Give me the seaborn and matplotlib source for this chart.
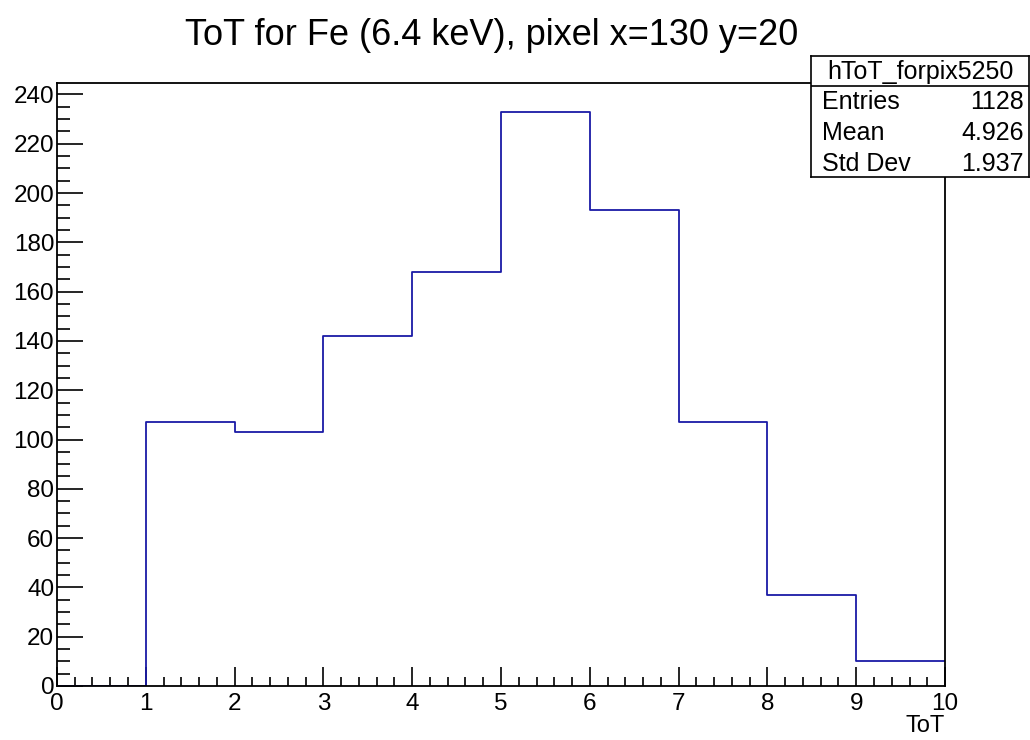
import numpy as np
import pandas as pd
import matplotlib
matplotlib.use("Agg")
import matplotlib.pyplot as plt
from matplotlib.ticker import MultipleLocator
import seaborn as sns

# histogram contents (bin lower edges and counts)
bin_lo = [0, 1, 2, 3, 4, 5, 6, 7, 8, 9]
counts = [0, 107, 103, 142, 168, 233, 193, 107, 37, 10]
hist_name = "hToT_forpix5250"
stat_labels = ["Entries", "Mean", "Std Dev"]
stat_values = ["1128", "4.926", "1.937"]
title = "ToT for Fe (6.4 keV), pixel x=130 y=20"

sns.set_style("white")
plt.rcParams['font.family'] = ['Liberation Sans', 'DejaVu Sans']
plt.rcParams['text.color'] = 'black'
plt.rcParams['xtick.color'] = 'black'
plt.rcParams['ytick.color'] = 'black'
plt.rcParams['axes.labelcolor'] = 'black'

df = pd.DataFrame({"ToT": np.array(bin_lo) + 0.5, "n": counts})

fig = plt.figure(figsize=(10.3, 7.4), dpi=100)
ax = fig.add_axes([0.0553, 0.073, 0.8622, 0.8148])
sns.histplot(data=df, x="ToT", weights="n", binwidth=1, binrange=(0, 10), element="step",
             fill=False, color="#1a1aa6", linewidth=1.3, ax=ax)

ax.set_xlim(0, 10)
ax.set_ylim(0, max(counts) * 1.05)
ax.xaxis.set_major_locator(MultipleLocator(1))
ax.xaxis.set_minor_locator(MultipleLocator(0.2))
ax.yaxis.set_major_locator(MultipleLocator(20))
ax.yaxis.set_minor_locator(MultipleLocator(5))
ax.tick_params(axis="x", which="major", direction="in", length=13.5, width=1.2, labelsize=17.5, pad=5)
ax.tick_params(axis="x", which="minor", direction="in", length=6.5, width=1.2)
ax.tick_params(axis="y", which="major", direction="in", length=18.5, width=1.2, labelsize=17.5, pad=2)
ax.tick_params(axis="y", which="minor", direction="in", length=9.5, width=1.2)
ax.tick_params(bottom=True, left=True, top=False, right=False, which="both")
for s in ax.spines.values():
    s.set_color("black")
    s.set_linewidth(1.3)
ax.set_ylabel("")
ax.set_xlabel("ToT", fontsize=17)
ax.xaxis.set_label_coords(1.0, -0.048)
ax.xaxis.label.set_horizontalalignment("right")

fig.text(0.477, 0.952, title, ha="center", va="center", fontsize=26)

# stats box
bx = fig.add_axes([0.7875, 0.7608, 0.2115, 0.164])
bx.set_xlim(0, 1)
bx.set_ylim(0, 4)
bx.set_xticks([])
bx.set_yticks([])
for s in bx.spines.values():
    s.set_color("black")
    s.set_linewidth(1.2)
bx.axhline(3.0, color="black", lw=1.2)
bx.text(0.5, 3.47, hist_name, ha="center", va="center", fontsize=18)
for i, (lab, val) in enumerate(zip(stat_labels, stat_values)):
    y = 2.47 - i * 1.02
    bx.text(0.05, y, lab, ha="left", va="center", fontsize=18)
    bx.text(0.975, y, val, ha="right", va="center", fontsize=18)

fig.savefig("out.png", dpi=100, facecolor="white")
